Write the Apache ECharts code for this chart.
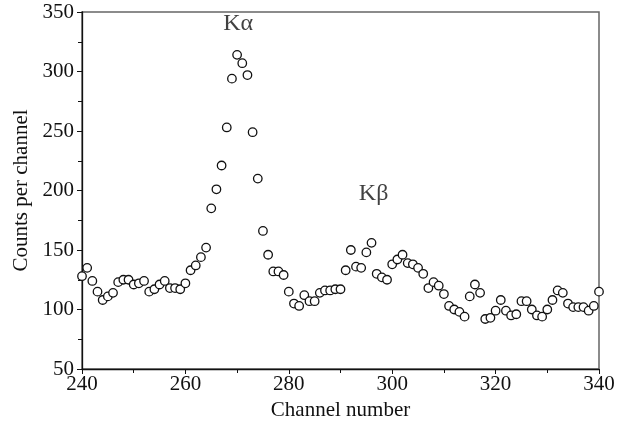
<!DOCTYPE html>
<html>
<head>
<meta charset="utf-8">
<script src="https://cdn.jsdelivr.net/npm/echarts@6/dist/echarts.min.js"></script>
<style>
  html, body { margin: 0; padding: 0; background: #fff; }
  #main { width: 639px; height: 432px; }
</style>
</head>
<body>
<div id="main"></div>
<script>
// 通道号从 240 到 340，每个通道一个计数
var firstChannel = 240;
var counts = [
    128, 135, 124, 115, 108, 111, 114, 123, 125, 125,
    121, 122, 124, 115, 117, 121, 124, 118, 118, 117,
    122, 133, 137, 144, 152, 185, 201, 221, 253, 294,
    314, 307, 297, 249, 210, 166, 146, 132, 132, 129,
    115, 105, 103, 112, 107, 107, 114, 116, 116, 117,
    117, 133, 150, 136, 135, 148, 156, 130, 127, 125,
    138, 142, 146, 139, 138, 135, 130, 118, 123, 120,
    113, 103, 100, 98, 94, 111, 121, 114, 92, 93,
    99, 108, 99, 95, 96, 107, 107, 100, 95, 94,
    100, 108, 116, 114, 105, 102, 102, 102, 99, 103,
    115
];
var peakLabels = [
    {name: 'Kα', channel: 270.2, value: 340},
    {name: 'Kβ', channel: 296.4, value: 197}
];

var myChart = echarts.init(document.getElementById('main'));
var points = counts.map(function(v, i) { return [firstChannel + i, v]; });
var fontFamily = '"Liberation Serif", "DejaVu Serif", serif';
var ink = '#111';

var option = {
    animation: false,
    textStyle: {fontFamily: fontFamily},
    grid: {
        left: 82, right: 40, top: 12, bottom: 63,
        show: true, borderColor: '#666', borderWidth: 1.5
    },
    xAxis: {
        type: 'value',
        min: 240, max: 340, interval: 20,
        name: 'Channel number',
        nameLocation: 'middle',
        nameGap: 31,
        nameTextStyle: {fontSize: 21, color: ink, fontFamily: fontFamily},
        axisLine: {lineStyle: {color: ink, width: 1.3}},
        axisTick: {length: 5, lineStyle: {color: ink}},
        minorTick: {show: true, splitNumber: 2, length: 4, lineStyle: {color: ink}},
        axisLabel: {fontSize: 21, color: ink, margin: 5, fontFamily: fontFamily},
        splitLine: {show: false}
    },
    yAxis: {
        type: 'value',
        min: 50, max: 350, interval: 50,
        name: 'Counts per channel',
        nameLocation: 'middle',
        nameGap: 48,
        nameTextStyle: {fontSize: 21, color: ink, fontFamily: fontFamily},
        axisLine: {lineStyle: {color: ink, width: 1.3}},
        axisTick: {length: 5, lineStyle: {color: ink}},
        minorTick: {show: true, splitNumber: 2, length: 4, lineStyle: {color: ink}},
        axisLabel: {fontSize: 21, color: ink, margin: 8, fontFamily: fontFamily},
        splitLine: {show: false}
    },
    series: [
        {
            type: 'scatter',
            data: points,
            symbol: 'circle',
            symbolSize: 8.5,
            itemStyle: {color: '#fff', borderColor: ink, borderWidth: 1.3, opacity: 1}
        },
        {
            // 峰的标注
            type: 'scatter',
            symbolSize: 0,
            data: peakLabels.map(function(p) { return {name: p.name, value: [p.channel, p.value]}; }),
            label: {
                show: true,
                position: 'inside',
                formatter: '{b}',
                fontSize: 24,
                color: ink,
                fontFamily: fontFamily
            }
        }
    ]
};

myChart.setOption(option);
</script>
</body>
</html>
